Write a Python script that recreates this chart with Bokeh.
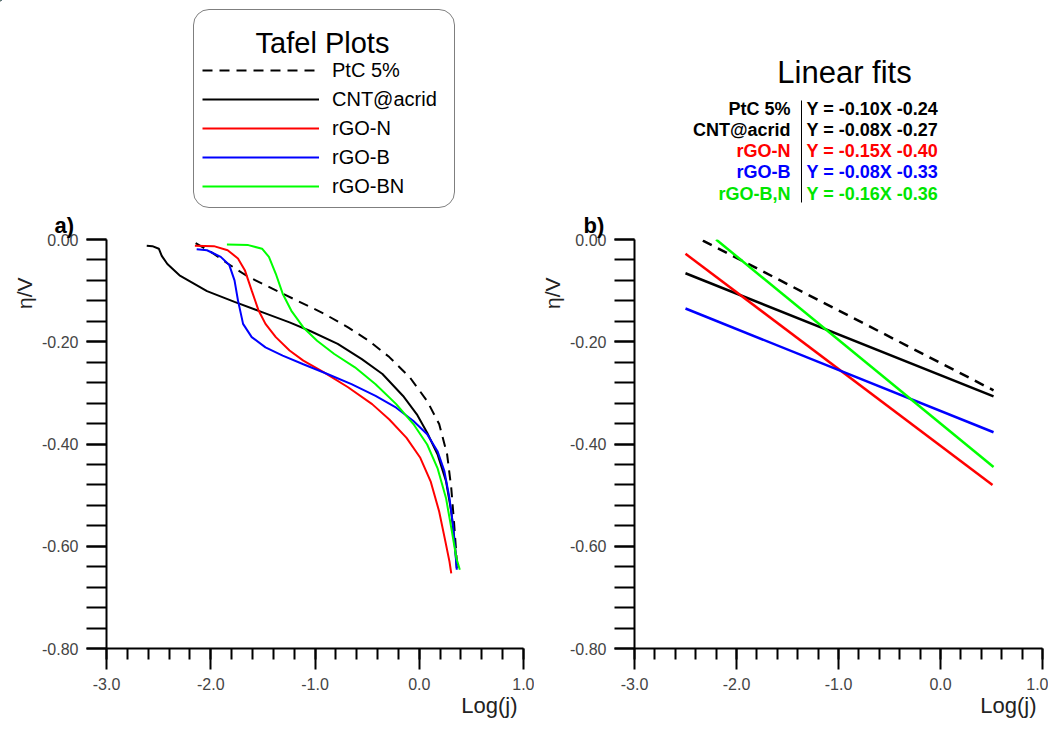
from bokeh.plotting import figure
from bokeh.models import Legend, LegendItem, Label, FixedTicker, Arrow, Range1d, Title
from bokeh.layouts import row, column
from bokeh.embed import file_html
from bokeh.resources import INLINE

# ---------------- data: panel a) Tafel curves ----------------
ptc_x = [-2.145, -1.970, -1.838, -1.640, -1.409, -1.178, -0.914, -0.683, -0.485, -0.287,
         -0.089, 0.076, 0.191, 0.267, 0.307, 0.333, 0.356, 0.366]
ptc_y = [-0.007, -0.028, -0.047, -0.073, -0.096, -0.119, -0.145, -0.172, -0.198, -0.230,
         -0.270, -0.316, -0.361, -0.420, -0.486, -0.551, -0.617, -0.643]

cnt_x = [-2.614, -2.560, -2.498, -2.470, -2.416, -2.300, -2.036, -1.772, -1.508, -1.244,
         -1.046, -0.782, -0.551, -0.353, -0.155, -0.023, 0.076, 0.175, 0.257, 0.307, 0.340, 0.360]
cnt_y = [-0.012, -0.013, -0.018, -0.032, -0.048, -0.070, -0.101, -0.122, -0.142, -0.162,
         -0.179, -0.204, -0.234, -0.263, -0.306, -0.342, -0.378, -0.420, -0.473, -0.532, -0.591, -0.643]

rgon_x = [-2.152, -1.970, -1.838, -1.739, -1.673, -1.607, -1.541, -1.475, -1.376, -1.244,
          -1.112, -0.914, -0.683, -0.452, -0.287, -0.122, 0.010, 0.109, 0.191, 0.251, 0.290, 0.307]
rgon_y = [-0.012, -0.013, -0.021, -0.037, -0.060, -0.100, -0.139, -0.165, -0.191, -0.217,
          -0.237, -0.260, -0.289, -0.322, -0.352, -0.388, -0.427, -0.473, -0.532, -0.591, -0.630, -0.653]

rgob_x = [-2.135, -2.036, -1.904, -1.822, -1.772, -1.739, -1.690, -1.607, -1.475, -1.310,
          -1.112, -0.881, -0.650, -0.419, -0.221, -0.056, 0.076, 0.175, 0.241, 0.290, 0.323, 0.346, 0.360]
rgob_y = [-0.019, -0.021, -0.034, -0.050, -0.080, -0.119, -0.165, -0.191, -0.211, -0.227,
          -0.244, -0.263, -0.283, -0.306, -0.329, -0.355, -0.381, -0.414, -0.453, -0.506, -0.558, -0.610, -0.646]

rgobn_x = [-1.845, -1.640, -1.508, -1.442, -1.376, -1.310, -1.228, -1.112, -0.980, -0.815,
           -0.617, -0.419, -0.221, -0.056, 0.076, 0.175, 0.257, 0.313, 0.356, 0.389]
rgobn_y = [-0.010, -0.011, -0.018, -0.034, -0.067, -0.106, -0.139, -0.172, -0.198, -0.224,
           -0.250, -0.283, -0.322, -0.361, -0.401, -0.447, -0.506, -0.571, -0.623, -0.646]

# ---------------- data: panel b) linear fits (end points) ----------------
fit_names = ["PtC 5%", "CNT@acrid", "rGO-N", "rGO-B", "rGO-B,N"]
fit_eqs = ["Y = -0.10X -0.24", "Y = -0.08X -0.27", "Y = -0.15X -0.40",
           "Y = -0.08X -0.33", "Y = -0.16X -0.36"]
fit_x0 = [-2.33, -2.50, -2.50, -2.50, -2.20]
fit_x1 = [0.52, 0.52, 0.51, 0.52, 0.52]
fit_y0 = [-0.002, -0.066, -0.028, -0.135, 0.000]
fit_y1 = [-0.295, -0.307, -0.480, -0.377, -0.445]

legend_names = ["PtC 5%", "CNT@acrid", "rGO-N", "rGO-B", "rGO-BN"]
colors = ["black", "black", "#FF0000", "#0000FF", "#00FF00"]
text_colors = ["black", "black", "#FF0000", "#0000FF", "#00E600"]
dashes = ["10 7", "solid", "solid", "solid", "solid"]

x_ticks = [-3, -2, -1, 0, 1]
x_tick_labels = ["-3.0", "-2.0", "-1.0", "0.0", "1.0"]
y_ticks = [0, -0.2, -0.4, -0.6, -0.8]
y_tick_labels = ["0.00", "-0.20", "-0.40", "-0.60", "-0.80"]
x_minor = [round(-3 + 0.2 * i, 2) for i in range(21)]
y_minor = [round(-0.04 * i, 2) for i in range(21)]

FONT = "Liberation Sans"
HEAD_H = 209
PLOT_H = 720 - HEAD_H
W1 = 534
W2 = 1048 - W1


def make_fig(width, bl, br, panel_tag, tag_offset):
    p = figure(width=width, height=PLOT_H, x_range=(-3, 1), y_range=(-0.8, 0.0),
               output_backend="svg", toolbar_location=None, title=None,
               min_border_left=bl, min_border_right=br, min_border_top=28,
               min_border_bottom=72)
    p.outline_line_color = None
    p.grid.visible = False
    p.xaxis.ticker = FixedTicker(ticks=x_ticks, minor_ticks=x_minor)
    p.yaxis.ticker = FixedTicker(ticks=y_ticks, minor_ticks=y_minor)
    p.xaxis.major_label_overrides = dict(zip(x_ticks, x_tick_labels))
    p.yaxis.major_label_overrides = dict(zip(y_ticks, y_tick_labels))
    for ax in (p.xaxis, p.yaxis):
        ax.axis_line_width = 2
        ax.axis_line_color = "black"
        ax.major_tick_line_width = 2
        ax.minor_tick_line_width = 2
        ax.major_tick_line_color = "black"
        ax.minor_tick_line_color = "black"
        ax.major_tick_in = 0
        ax.minor_tick_in = 0
        ax.major_label_text_font = FONT
        ax.major_label_text_font_size = "16px"
        ax.major_label_text_color = "#444444"
    p.xaxis.major_tick_out = 21
    p.xaxis.minor_tick_out = 11
    p.xaxis.major_label_standoff = 8
    p.yaxis.major_tick_out = 20
    p.yaxis.minor_tick_out = 20
    p.yaxis.major_label_standoff = 8
    # axis titles and panel tag
    p.add_layout(Title(text="η/V", align="right", offset=38, standoff=8,
                       text_font=FONT, text_font_size="21px", text_font_style="normal",
                       text_color="#222222"), "left")
    p.add_layout(Title(text="Log(j)", align="right", offset=6, standoff=0, vertical_align="top",
                       text_font=FONT, text_font_size="22px", text_font_style="normal",
                       text_color="#222222"), "below")
    p.add_layout(Title(text=panel_tag, align="left", offset=tag_offset, standoff=3,
                       vertical_align="bottom", text_font=FONT, text_font_size="22px",
                       text_font_style="bold", text_color="black"), "above")
    return p


def make_head(width, x0):
    h = figure(width=width, height=HEAD_H, x_range=Range1d(x0, x0 + width),
               y_range=Range1d(HEAD_H, 0), x_axis_type=None, y_axis_type=None,
               output_backend="svg", toolbar_location=None, min_border=0, title=None)
    h.outline_line_color = None
    h.grid.visible = False
    return h


def add_text(p, x, y, text, size, color="black", style="normal", align="left",
             baseline="alphabetic"):
    p.add_layout(Label(x=x, y=y, text=text, text_font=FONT, text_font_size=f"{size}px",
                       text_color=color, text_font_style=style, text_align=align,
                       text_baseline=baseline, level="overlay"))


# ---------------- panel a ----------------
p1 = make_fig(W1, 106, W1 - 106 - 417, "a)", -52)
series = [(ptc_x, ptc_y), (cnt_x, cnt_y), (rgon_x, rgon_y), (rgob_x, rgob_y), (rgobn_x, rgobn_y)]
for (xs, ys), c, d in zip(series, colors, dashes):
    p1.line(xs, ys, line_color=c, line_width=2, line_dash=d)

# header over panel a: legend box (key lines carry the same series, they fall outside
# this header's visible range, only their legend glyphs show)
h1 = make_head(W1, 0)
key_rends = [h1.line(xs, ys, line_color=c, line_width=2, line_dash=d)
             for (xs, ys), c, d in zip(series, colors, dashes)]
legend = Legend(items=[LegendItem(label=n, renderers=[r]) for n, r in zip(legend_names, key_rends)],
                location=(193, 1), title=" ", title_text_font=FONT, title_text_font_size="29px",
                title_standoff=6, label_text_font=FONT, label_text_font_size="20px",
                label_text_color="black", glyph_width=117, glyph_height=26, label_height=26,
                label_width=114, spacing=3, label_standoff=13, padding=8, margin=0,
                border_line_color="black", border_line_width=1, background_fill_color="white",
                background_fill_alpha=0.0)
try:
    legend.border_radius = 16
except Exception:
    pass
h1.add_layout(legend)
add_text(h1, 322, 42, "Tafel Plots", 29, align="center")

# ---------------- panel b ----------------
p2 = make_fig(W2, 632 - W1, W2 - (632 - W1) - 410, "b)", -51)
for x0, x1, y0, y1, c, d in zip(fit_x0, fit_x1, fit_y0, fit_y1, colors, dashes):
    p2.line([x0, x1], [y0, y1], line_color=c, line_width=2.5, line_dash=d)

h2 = make_head(W2, W1)
add_text(h2, 844, 72, "Linear fits", 31, align="center")
row_y = [108.0, 129.25, 150.5, 171.75, 193.0]
for name, eq, c, yy in zip(fit_names, fit_eqs, text_colors, row_y):
    add_text(h2, 790, yy, name, 18, color=c, style="bold", align="right")
    add_text(h2, 806, yy, eq, 18, color=c, style="bold", align="left")
h2.add_layout(Arrow(start=None, end=None, x_start=801, y_start=100, x_end=801, y_end=202,
                    line_color="black", line_width=1))

layout = column(row(h1, h2), row(p1, p2))
open("out.html", "w").write(file_html(layout, INLINE))
